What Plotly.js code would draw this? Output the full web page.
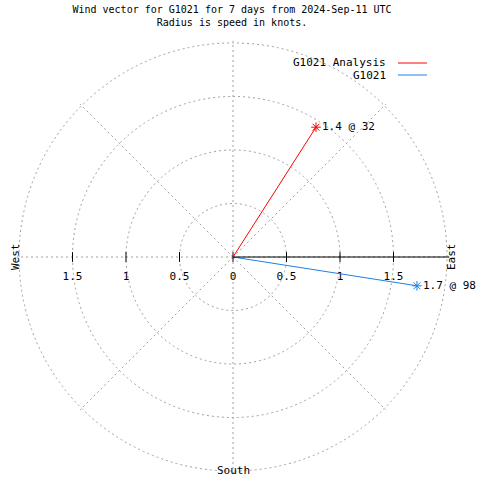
<!DOCTYPE html>
<html>
<head>
<meta charset="utf-8">
<script src="https://cdn.plot.ly/plotly-3.0.1.min.js"></script>
<style>html,body{margin:0;padding:0;background:#fff;}#chart{width:480px;height:480px;}</style>
</head>
<body>
<div id="chart"></div>
<script>
// ---- data ----
const seriesNames = ['G1021 Analysis', 'G1021'];
const speeds = [1.44, 1.74];          // knots
const directions = [32.6, 98.9];      // degrees (compass)
const vectorLabels = ['1.4 @ 32', '1.7 @ 98'];
const seriesColors = ['#ff0000', '#1e7fe6'];
const tickValues = [0, 0.5, 1, 1.5];
const tickLabels = ['0', '0.5', '1', '1.5'];
const compassLabels = ['West', 'East', 'South'];
const titleLines = ['Wind vector for G1021 for 7 days from 2024-Sep-11 UTC', 'Radius is speed in knots.'];

const FONT = 'DejaVu Sans Mono, Liberation Mono, monospace';
const FS = 10;
const W = 480, H = 480;
const cx = 233, cy = 257, pxPerUnit = 107;
const rMax = 2.02;
const rad = rMax * pxPerUnit;
const px = x => x / W, py = y => 1 - y / H;

const traces = [];

// axis tick marks on both halves of the horizontal axis
const tickR = [], tickT = [];
tickValues.forEach(v => { tickR.push(v); tickT.push(90); if (v > 0) { tickR.push(v); tickT.push(270); } });
traces.push({
  type: 'scatterpolar', mode: 'markers', r: tickR, theta: tickT,
  marker: {symbol: 'line-ns-open', size: 7, color: 'black', line: {color: 'black', width: 1}},
  showlegend: false, hoverinfo: 'skip'
});

// tick labels (both sides)
const labR = [], labT = [], labTxt = [];
tickValues.forEach((v, i) => {
  labR.push(v); labT.push(90); labTxt.push(tickLabels[i]);
  if (v > 0) { labR.push(v); labT.push(270); labTxt.push(tickLabels[i]); }
});
traces.push({
  type: 'scatterpolar', mode: 'markers+text', r: labR, theta: labT, text: labTxt,
  textposition: 'bottom center', textfont: {family: FONT, size: FS + 1, color: 'black'},
  marker: {size: 22, opacity: 0},
  showlegend: false, hoverinfo: 'skip'
});

// vectors
seriesNames.forEach((name, i) => {
  traces.push({
    type: 'scatterpolar', mode: 'lines', name: name,
    r: [0, speeds[i]], theta: [0, directions[i]],
    line: {color: seriesColors[i], width: 1},
    showlegend: false, hoverinfo: 'skip'
  });
  traces.push({
    type: 'scatterpolar', mode: 'markers+text',
    r: [speeds[i]], theta: [directions[i]],
    text: [vectorLabels[i]],
    textposition: 'middle right', textfont: {family: FONT, size: FS + 1, color: 'black'},
    marker: {symbol: 'asterisk-open', size: 8, color: seriesColors[i], line: {color: seriesColors[i], width: 1}},
    showlegend: false, hoverinfo: 'skip'
  });
});

// legend (gnuplot style: text right-aligned, sample line on the right)
const annotations = [];
const shapes = [];
seriesNames.forEach((name, i) => {
  const y = 63 + i * 12;
  annotations.push({xref: 'paper', yref: 'paper', x: px(388), y: py(y), xanchor: 'right', yanchor: 'middle',
    text: name, showarrow: false, font: {family: FONT, size: FS + 1, color: 'black'}});
  shapes.push({type: 'line', xref: 'paper', yref: 'paper', x0: px(398), x1: px(427), y0: py(y), y1: py(y),
    line: {color: seriesColors[i], width: 1}});
});

// compass labels
annotations.push({xref: 'paper', yref: 'paper', x: px(15), y: py(cy), xanchor: 'center', yanchor: 'middle',
  text: compassLabels[0], textangle: -90, showarrow: false, font: {family: FONT, size: FS + 1, color: 'black'}});
annotations.push({xref: 'paper', yref: 'paper', x: px(451), y: py(cy), xanchor: 'center', yanchor: 'middle',
  text: compassLabels[1], textangle: -90, showarrow: false, font: {family: FONT, size: FS + 1, color: 'black'}});
annotations.push({xref: 'paper', yref: 'paper', x: px(cx), y: py(470), xanchor: 'center', yanchor: 'middle',
  text: compassLabels[2], showarrow: false, font: {family: FONT, size: FS + 1, color: 'black'}});

const gridStyle = {gridcolor: '#a0a0a0', griddash: '2px,3px', gridwidth: 1};

const layout = {
  width: W, height: H,
  margin: {l: 0, r: 0, t: 0, b: 0},
  paper_bgcolor: 'white',
  showlegend: false,
  title: {text: titleLines.join('<br>'), x: px(232), xanchor: 'center', xref: 'paper',
          y: py(13), yanchor: 'top', yref: 'paper', font: {family: FONT, size: FS, color: 'black'}},
  polar: {
    domain: {x: [px(cx - rad), px(cx + rad)], y: [py(cy + rad), py(cy - rad)]},
    bgcolor: 'white',
    radialaxis: Object.assign({range: [0, rMax], angle: 0, tickvals: [0.5, 1, 1.5, 2],
      showticklabels: false, ticks: '', showline: true, linecolor: 'black', linewidth: 1}, gridStyle),
    angularaxis: Object.assign({rotation: 90, direction: 'clockwise', tickmode: 'linear', tick0: 0, dtick: 45,
      showticklabels: false, ticks: '', showline: false}, gridStyle)
  },
  annotations: annotations,
  shapes: shapes
};

Plotly.newPlot('chart', traces, layout, {displayModeBar: false, staticPlot: true});
</script>
</body>
</html>
